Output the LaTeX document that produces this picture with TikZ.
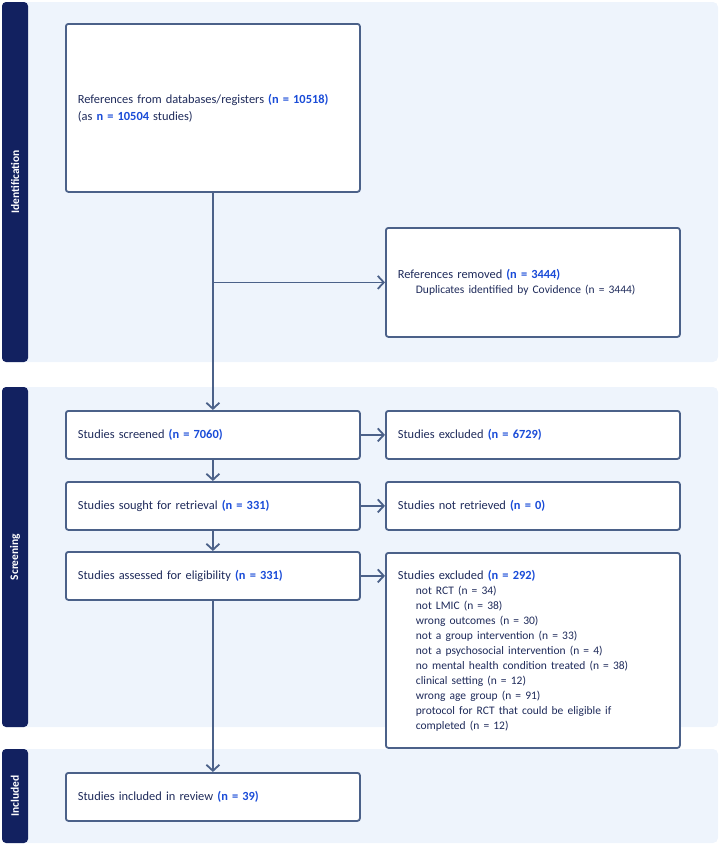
\documentclass[tikz,border=0pt]{standalone}
\usepackage{fontspec}
\setmainfont{Carlito}
\usetikzlibrary{arrows.meta,positioning}
\definecolor{navy}{HTML}{122160}
\definecolor{panel}{HTML}{EEF4FC}
\definecolor{edge}{HTML}{4B6189}
\definecolor{ink}{HTML}{1F2B5B}
\definecolor{num}{HTML}{1A4CD8}
\newcommand{\nval}[1]{\textcolor{num}{\bfseries #1}}
\newcommand{\reason}[1]{\\\hspace*{18pt}{\fontsize{11.5}{15}\selectfont #1}}
\tikzset{
  panelbg/.style={fill=panel, rounded corners=5pt},
  sidebar/.style={fill=navy, rounded corners=4pt},
  stage/.style={text=white, font=\bfseries\fontsize{11.5}{13}\selectfont, rotate=90},
  box/.style={draw=edge, line width=1.8pt, fill=white, rounded corners=2.5pt,
    text=ink, align=left, anchor=north west, inner xsep=11pt,
    minimum width=294pt, text width=270pt, font=\fontsize{12.4}{17}\selectfont},
  listbox/.style={box, font=\fontsize{12.4}{15}\selectfont},
  flow/.style={draw=edge, line width=1.8pt, -{Straight Barb[length=6pt,width=13pt]}}
}

\begin{document}
\begin{tikzpicture}[x=1pt,y=-1pt]
  \useasboundingbox (0,0) rectangle (720,844);

  % stage panels
  \fill[panelbg] (2,2) rectangle (718,362);
  \fill[panelbg] (2,387) rectangle (718,727);
  \fill[panelbg] (2,749) rectangle (718,843);
  \fill[sidebar] (2,2) rectangle (28,362);
  \fill[sidebar] (2,387) rectangle (28,727);
  \fill[sidebar] (2,749) rectangle (28,843);
  \node[stage] (ident) at (15,182) {Identification};
  \node[stage] (screen) at (15,557) {Screening};
  \node[stage] (incl) at (15,796) {Included};

  % left column
  \node[box, minimum height=168pt] (refs) at (65,23)
    {References from databases/registers \nval{(n = 10518)}\\(as \nval{n = 10504} studies)};
  \node[box, minimum height=48pt] (screened) at (65,410)
    {Studies screened \nval{(n = 7060)}};
  \node[box, minimum height=48pt] (sought) at (65,481)
    {Studies sought for retrieval \nval{(n = 331)}};
  \node[box, minimum height=48pt] (assessed) at (65,551)
    {Studies assessed for eligibility \nval{(n = 331)}};
  \node[box, minimum height=48pt] (included) at (65,772)
    {Studies included in review \nval{(n = 39)}};

  % right column
  \node[listbox, minimum height=109pt] (removed) at (385,227)
    {References removed \nval{(n = 3444)}\reason{Duplicates identified by Covidence (n = 3444)}};
  \node[box, minimum height=48pt] (excluded) at (385,410)
    {Studies excluded \nval{(n = 6729)}};
  \node[box, minimum height=48pt] (notret) at (385,481)
    {Studies not retrieved \nval{(n = 0)}};
  \node[listbox, minimum height=195pt] (fulltext) at (385,552)
    {Studies excluded \nval{(n = 292)}%
     \reason{not RCT (n = 34)}%
     \reason{not LMIC (n = 38)}%
     \reason{wrong outcomes (n = 30)}%
     \reason{not a group intervention (n = 33)}%
     \reason{not a psychosocial intervention (n = 4)}%
     \reason{no mental health condition treated (n = 38)}%
     \reason{clinical setting (n = 12)}%
     \reason{wrong age group (n = 91)}%
     \reason{protocol for RCT that could be eligible if}%
     \reason{completed (n = 12)}};

  % connectors
  \coordinate (split) at (refs.south |- removed.west);
  \draw[flow] (refs) -- (screened);
  \draw[flow] (split) -- (removed.west);
  \draw[flow] (screened) -- (excluded);
  \draw[flow] (screened) -- (sought);
  \draw[flow] (sought) -- (notret);
  \draw[flow] (sought) -- (assessed);
  \draw[flow] (assessed.east) -- (assessed.east -| fulltext.west);
  \draw[flow] (assessed) -- (included);
\end{tikzpicture}
\end{document}
